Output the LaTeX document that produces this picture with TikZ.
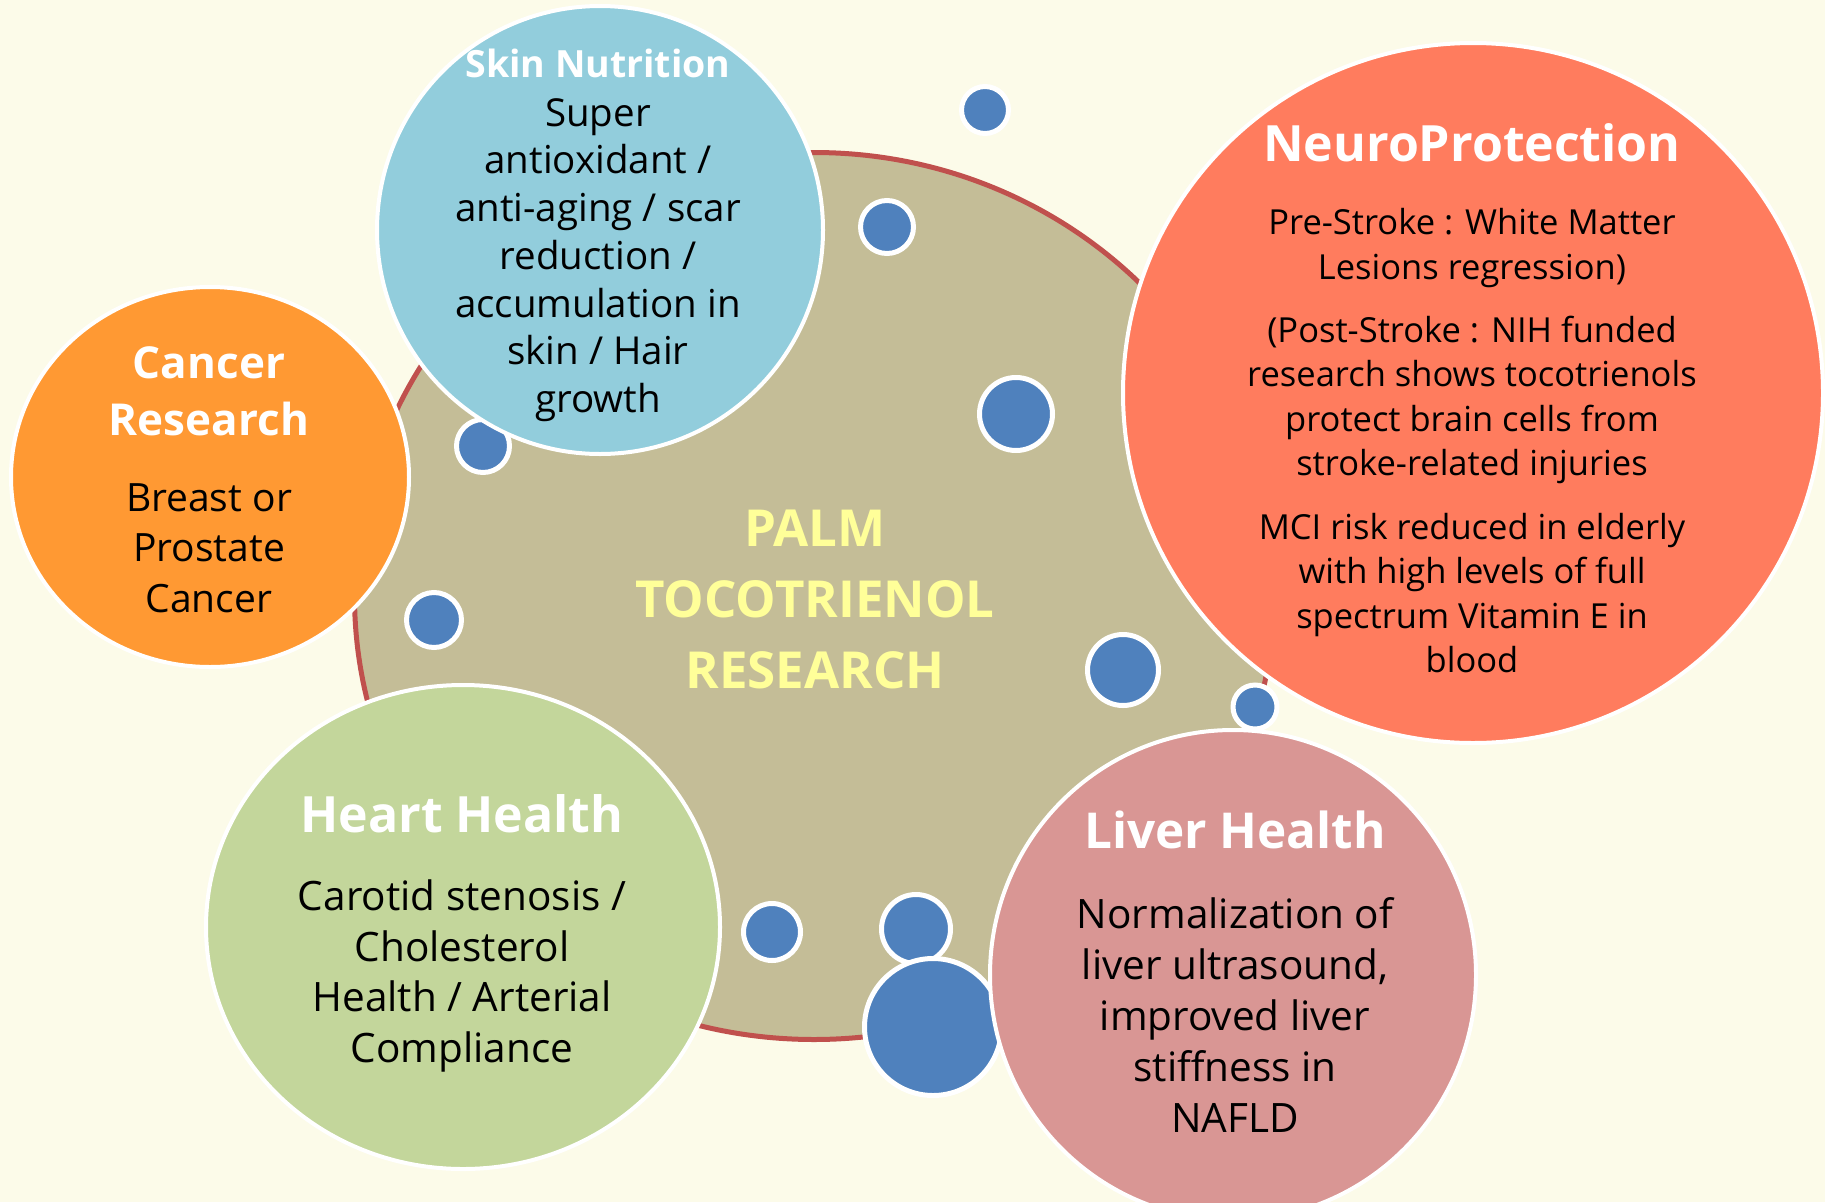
\documentclass[tikz,border=0pt]{standalone}
\usepackage{fontspec}
\setmainfont{Open Sans}
\usetikzlibrary{shapes.geometric}

\definecolor{bgcream}{HTML}{FCFBE9}
\definecolor{tanfill}{HTML}{C4BD97}
\definecolor{rimred}{HTML}{C0504D}
\definecolor{dotblue}{HTML}{4F81BD}
\definecolor{skinblue}{HTML}{92CDDC}
\definecolor{cancerorange}{HTML}{FF9933}
\definecolor{neurosalmon}{HTML}{FF7C5E}
\definecolor{heartgreen}{HTML}{C3D69B}
\definecolor{liverpink}{HTML}{D99694}
\definecolor{hubyellow}{HTML}{FFFF99}

\newcommand{\fsz}[2]{\fontsize{#1}{#2}\selectfont}

\begin{document}
\begin{tikzpicture}[x=1pt,y=-1pt,
  bubble/.style={ellipse, draw=white, line width=4pt, inner sep=0pt},
  dot/.style={circle, fill=dotblue, draw=white, line width=5pt, inner sep=0pt},
  ttl/.style={text=white, align=center, inner sep=0pt},
  body/.style={text=black, align=center, inner sep=0pt}]

% canvas
\fill[bgcream] (0,0) rectangle (1825,1202);
\useasboundingbox (0,0) rectangle (1825,1202);

% central hub
\node[ellipse, fill=tanfill, draw=rimred, line width=5pt, inner sep=0pt,
      minimum width=919pt, minimum height=887pt] (hub) at (814,596) {};

% small blue dots
\node[dot, minimum size=47pt]  (d1)  at (985,110) {};
\node[dot, minimum size=53pt]  (d2)  at (887,227) {};
\node[dot, minimum size=73pt]  (d3)  at (1016,414) {};
\node[dot, minimum size=71pt]  (d4)  at (1123,670) {};
\node[dot, minimum size=44pt]  (d5)  at (1255,707) {};
\node[dot, minimum size=53pt]  (d6)  at (483,446) {};
\node[dot, minimum size=55pt]  (d7)  at (434,620) {};
\node[dot, minimum size=57pt]  (d8)  at (772,932) {};
\node[dot, minimum size=69pt]  (d9)  at (916,929) {};
\node[dot, minimum size=137pt] (d10) at (933,1027) {};

% topic bubbles
\node[bubble, fill=skinblue, minimum width=446pt, minimum height=448pt] (skin) at (600,230) {};
\node[bubble, fill=cancerorange, minimum width=398pt, minimum height=380pt] (cancer) at (210,477) {};
\node[bubble, fill=neurosalmon, minimum width=700pt, minimum height=700pt] (neuro) at (1473,393) {};
\node[bubble, fill=heartgreen, minimum width=514pt, minimum height=484pt] (heart) at (463,927) {};
\node[bubble, fill=liverpink, minimum width=486pt, minimum height=490pt] (liver) at (1233,975) {};

% hub caption
\node[text=hubyellow, align=center, inner sep=0pt, font=\fsz{51}{71}\bfseries] (hubtext) at (815,599)
  {PALM\\TOCOTRIENOL\\RESEARCH};

% skin nutrition
\node[ttl, font=\fsz{37.5}{44}\bfseries] (skinttl) at (598,63) {Skin Nutrition};
\node[body, font=\fsz{38.5}{47.7}] (skinbody) at (598,260)
  {Super\\antioxidant /\\anti-aging / scar\\reduction /\\accumulation in\\skin / Hair\\growth};

% cancer research
\node[ttl, font=\fsz{44}{57}\bfseries] (cancerttl) at (209,391) {Cancer\\Research};
\node[body, font=\fsz{39}{50.6}] (cancerbody) at (209,548) {Breast or\\Prostate\\Cancer};

% neuroprotection
\node[ttl, font=\fsz{50}{60}\bfseries] (neurottl) at (1472,143) {NeuroProtection};
\node[body, font=\fsz{34.5}{44.5}] (neuroA) at (1472,248) {Pre-Stroke : White Matter\\Lesions regression)};
\node[body, font=\fsz{34.5}{44.5}] (neuroB) at (1472,400)
  {(Post-Stroke : NIH funded\\research shows tocotrienols\\protect brain cells from\\stroke-related injuries};
\node[body, font=\fsz{34.5}{44.5}] (neuroC) at (1472,593)
  {MCI risk reduced in elderly\\with high levels of full\\spectrum Vitamin E in\\blood};

% heart health
\node[ttl, font=\fsz{50}{60}\bfseries] (heartttl) at (462,814) {Heart Health};
\node[body, font=\fsz{40.5}{50.7}] (heartbody) at (462,976)
  {Carotid stenosis /\\Cholesterol\\Health / Arterial\\Compliance};

% liver health
\node[ttl, font=\fsz{49.5}{60}\bfseries] (liverttl) at (1235,830) {Liver Health};
\node[body, font=\fsz{40.5}{51.2}] (liverbody) at (1235,1015)
  {Normalization of\\liver ultrasound,\\improved liver\\stiffness in\\NAFLD};

\end{tikzpicture}
\end{document}
